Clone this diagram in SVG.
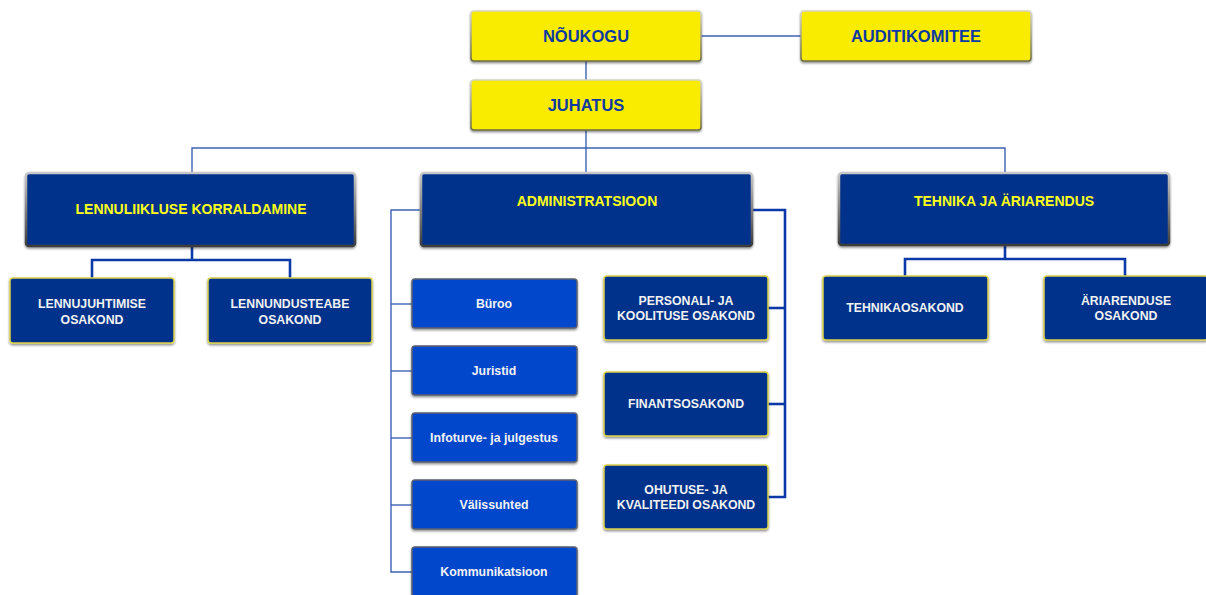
<svg xmlns="http://www.w3.org/2000/svg" width="1206" height="595" viewBox="0 0 1206 595">
  <defs>
    <filter id="shadow" x="-10%" y="-20%" width="120%" height="150%">
      <feDropShadow dx="0" dy="1.5" stdDeviation="1.2" flood-color="#000" flood-opacity="0.45"/>
    </filter>
    <linearGradient id="bevel" x1="0" y1="0" x2="0" y2="1">
      <stop offset="0" stop-color="#c8c8c8"/>
      <stop offset="1" stop-color="#3c3c3c"/>
    </linearGradient>
    <linearGradient id="bevelY" x1="0" y1="0" x2="0" y2="1">
      <stop offset="0" stop-color="#d6d6c0"/>
      <stop offset="1" stop-color="#6b6b40"/>
    </linearGradient>
  </defs>
  <style>
    text { font-family: "Liberation Sans", Arial, sans-serif; font-weight: bold; text-anchor: middle; }
    .board rect { fill: #f9ec00; stroke: url(#bevelY); stroke-width: 1.5; filter: url(#shadow); }
    .board text { fill: #0c3aa2; font-size: 16.5px; }
    .head rect { fill: #05318c; stroke: url(#bevel); stroke-width: 2.5; filter: url(#shadow); }
    .head text { fill: #ffff1a; font-size: 14px; }
    .dept rect { fill: #05318c; stroke: #d9d24a; stroke-width: 1.5; filter: url(#shadow); }
    .dept text { fill: #f2f2f2; font-size: 12.3px; }
    .unit rect { fill: #0047cc; stroke: #5a6070; stroke-width: 1.5; filter: url(#shadow); }
    .unit text { fill: #f2f2f2; font-size: 12.3px; }
    .thin { fill: none; stroke: #3d62b3; stroke-width: 1.4; }
    .thick { fill: none; stroke: #0b3aa8; stroke-width: 2.6; }
  </style>

  <!-- connectors -->
  <g id="connectors">
    <line class="thin" x1="701" y1="36" x2="801" y2="36"/>
    <line class="thin" x1="586" y1="61" x2="586" y2="80"/>
    <line class="thin" x1="586" y1="130" x2="586" y2="173"/>
    <polyline class="thin" points="192,173 192,148 1005,148 1005,173"/>
    <!-- air traffic branch -->
    <polyline class="thick" points="92,278 92,260 290,260 290,278"/>
    <line class="thick" x1="192" y1="246" x2="192" y2="260"/>
    <!-- technology branch -->
    <polyline class="thick" points="905,276 905,259 1125,259 1125,276"/>
    <line class="thick" x1="1005" y1="245" x2="1005" y2="259"/>
    <!-- administration: left bracket -->
    <polyline class="thin" points="421,210 391,210 391,572 412,572"/>
    <line class="thin" x1="391" y1="304" x2="412" y2="304"/>
    <line class="thin" x1="391" y1="371" x2="412" y2="371"/>
    <line class="thin" x1="391" y1="438" x2="412" y2="438"/>
    <line class="thin" x1="391" y1="505" x2="412" y2="505"/>
    <!-- administration: right bracket -->
    <polyline class="thick" points="752,210 785,210 785,497 768,497"/>
    <line class="thick" x1="768" y1="308" x2="785" y2="308"/>
    <line class="thick" x1="768" y1="404" x2="785" y2="404"/>
  </g>

  <!-- board level -->
  <g id="noukogu" class="board">
    <rect x="471" y="11" width="230" height="50" rx="3"/>
    <text x="586" y="42">NÕUKOGU</text>
  </g>
  <g id="auditikomitee" class="board">
    <rect x="801" y="11" width="230" height="50" rx="3"/>
    <text x="916" y="42">AUDITIKOMITEE</text>
  </g>
  <g id="juhatus" class="board">
    <rect x="471" y="80" width="230" height="50" rx="3"/>
    <text x="586" y="111">JUHATUS</text>
  </g>

  <!-- divisions -->
  <g id="lennuliiklus" class="head">
    <rect x="26" y="173" width="329" height="73" rx="3"/>
    <text x="191" y="214">LENNULIIKLUSE KORRALDAMINE</text>
  </g>
  <g id="administratsioon" class="head">
    <rect x="421" y="173" width="331" height="73" rx="3"/>
    <text x="587" y="206">ADMINISTRATSIOON</text>
  </g>
  <g id="tehnika" class="head">
    <rect x="839" y="173" width="330" height="72" rx="3"/>
    <text x="1004" y="206">TEHNIKA JA ÄRIARENDUS</text>
  </g>

  <!-- air traffic departments -->
  <g id="lennujuhtimise" class="dept">
    <rect x="10" y="278" width="164" height="65" rx="3"/>
    <text x="92" y="308">LENNUJUHTIMISE</text>
    <text x="92" y="324">OSAKOND</text>
  </g>
  <g id="lennundusteabe" class="dept">
    <rect x="208" y="278" width="164" height="65" rx="3"/>
    <text x="290" y="308">LENNUNDUSTEABE</text>
    <text x="290" y="324">OSAKOND</text>
  </g>

  <!-- administration units -->
  <g id="buroo" class="unit">
    <rect x="412" y="279" width="165" height="49" rx="3"/>
    <text x="494" y="308">Büroo</text>
  </g>
  <g id="juristid" class="unit">
    <rect x="412" y="346" width="165" height="49" rx="3"/>
    <text x="494" y="375">Juristid</text>
  </g>
  <g id="infoturve" class="unit">
    <rect x="412" y="413" width="165" height="49" rx="3"/>
    <text x="494" y="442">Infoturve- ja julgestus</text>
  </g>
  <g id="valissuhted" class="unit">
    <rect x="412" y="480" width="165" height="49" rx="3"/>
    <text x="494" y="509">Välissuhted</text>
  </g>
  <g id="kommunikatsioon" class="unit">
    <rect x="412" y="547" width="165" height="50" rx="3"/>
    <text x="494" y="576">Kommunikatsioon</text>
  </g>

  <!-- administration departments -->
  <g id="personali" class="dept">
    <rect x="604" y="276" width="164" height="64" rx="3"/>
    <text x="686" y="305">PERSONALI- JA</text>
    <text x="686" y="320">KOOLITUSE OSAKOND</text>
  </g>
  <g id="finants" class="dept">
    <rect x="604" y="372" width="164" height="64" rx="3"/>
    <text x="686" y="408">FINANTSOSAKOND</text>
  </g>
  <g id="ohutuse" class="dept">
    <rect x="604" y="465" width="164" height="64" rx="3"/>
    <text x="686" y="494">OHUTUSE- JA</text>
    <text x="686" y="509">KVALITEEDI OSAKOND</text>
  </g>

  <!-- technology departments -->
  <g id="tehnikaosakond" class="dept">
    <rect x="823" y="276" width="165" height="64" rx="3"/>
    <text x="905" y="312">TEHNIKAOSAKOND</text>
  </g>
  <g id="ariarenduse" class="dept">
    <rect x="1044" y="276" width="164" height="64" rx="3"/>
    <text x="1126" y="305">ÄRIARENDUSE</text>
    <text x="1126" y="320">OSAKOND</text>
  </g>
</svg>
